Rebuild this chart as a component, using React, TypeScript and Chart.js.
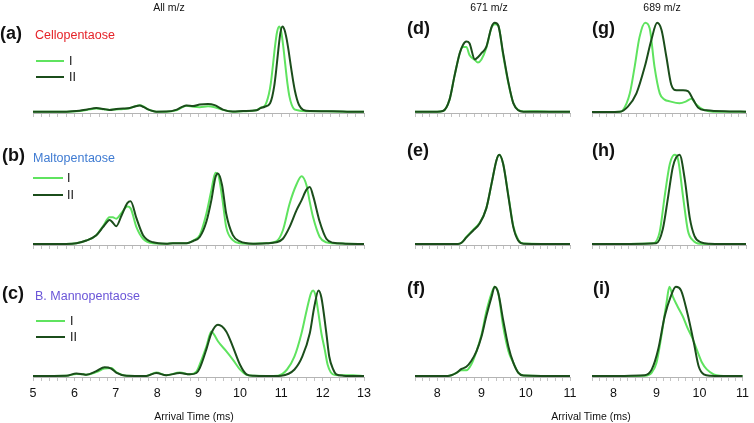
import React, { useEffect, useRef } from 'react';
import { Chart, registerables } from 'chart.js';
Chart.register(...registerables);

type Pt = [number, number];

const LIGHT = '#5fe35f';
const DARK = '#1b4d1b';
const FONT = '"Liberation Sans", Arial, sans-serif';

// ---------- tick labels ----------
const LEFT_TICK_LABELS = [5, 6, 7, 8, 9, 10, 11, 12, 13];
const RIGHT_TICK_LABELS = [8, 9, 10, 11];
const LEFT_MINOR_PER_UNIT = 5;
const RIGHT_MINOR_PER_UNIT = 6;

// ---------- All m/z : Cellopentaose (a) ----------
const A_II: Pt[] = [[5,0.003],[5.5,0.003],[5.81,0.005],[6.05,0.012],[6.31,0.03],[6.53,0.045],[6.71,0.035],[6.85,0.025],[7.01,0.035],[7.18,0.04],[7.3,0.042],[7.44,0.06],[7.58,0.075],[7.68,0.055],[7.78,0.03],[7.98,0.005],[8.22,0.006],[8.46,0.025],[8.59,0.055],[8.71,0.075],[8.87,0.068],[9.03,0.085],[9.23,0.092],[9.39,0.078],[9.59,0.028],[9.83,0.006],[10.08,0.012],[10.4,0.02],[10.5,0.045],[10.6,0.06],[10.73,0.1],[10.78,0.17],[10.83,0.29],[10.88,0.48],[10.93,0.7],[10.98,0.89],[11.03,0.96],[11.08,0.92],[11.13,0.82],[11.18,0.68],[11.23,0.52],[11.28,0.37],[11.33,0.24],[11.38,0.145],[11.43,0.08],[11.53,0.025],[11.7,0.012],[12.25,0.01],[12.66,0.005],[13,0.003]];
const A_I: Pt[] = [[5,0.003],[5.5,0.003],[5.81,0.005],[6.05,0.01],[6.31,0.025],[6.53,0.04],[6.71,0.032],[6.85,0.025],[7.01,0.03],[7.18,0.035],[7.3,0.04],[7.44,0.06],[7.58,0.078],[7.68,0.06],[7.78,0.03],[7.98,0.005],[8.22,0.005],[8.46,0.02],[8.59,0.05],[8.71,0.072],[8.87,0.06],[9.03,0.055],[9.23,0.065],[9.39,0.055],[9.59,0.025],[9.83,0.005],[10.08,0.01],[10.4,0.02],[10.5,0.05],[10.6,0.07],[10.7,0.2],[10.75,0.33],[10.8,0.53],[10.85,0.74],[10.9,0.9],[10.95,0.96],[11.0,0.9],[11.05,0.73],[11.1,0.52],[11.15,0.32],[11.2,0.17],[11.25,0.085],[11.3,0.04],[11.4,0.02],[11.5,0.012],[12.25,0.008],[13,0.003]];

// ---------- All m/z : Maltopentaose (b) ----------
const B_II: Pt[] = [[5,0],[5.8,0.002],[6.05,0.01],[6.29,0.04],[6.53,0.1],[6.69,0.19],[6.81,0.26],[6.85,0.27],[6.93,0.24],[7.01,0.2],[7.14,0.32],[7.28,0.46],[7.36,0.48],[7.5,0.29],[7.66,0.1],[7.9,0.02],[8.22,0.005],[8.38,0.01],[8.71,0.01],[8.87,0.035],[9.03,0.08],[9.19,0.25],[9.31,0.49],[9.41,0.75],[9.47,0.79],[9.57,0.66],[9.67,0.34],[9.83,0.1],[10.0,0.03],[10.32,0.005],[10.64,0.01],[10.88,0.02],[11.04,0.06],[11.2,0.19],[11.37,0.38],[11.49,0.49],[11.61,0.61],[11.69,0.64],[11.77,0.54],[11.93,0.25],[12.09,0.06],[12.25,0.015],[12.55,0.005],[13,0]];
const B_I: Pt[] = [[5,0],[5.8,0.002],[6.05,0.01],[6.29,0.04],[6.53,0.1],[6.69,0.2],[6.85,0.3],[6.93,0.3],[7.01,0.285],[7.14,0.35],[7.28,0.42],[7.36,0.4],[7.5,0.19],[7.66,0.06],[7.9,0.01],[8.22,0.005],[8.38,0.01],[8.71,0.01],[8.87,0.04],[9.03,0.1],[9.19,0.34],[9.31,0.6],[9.41,0.8],[9.47,0.785],[9.57,0.53],[9.67,0.19],[9.83,0.045],[10.0,0.01],[10.32,0.005],[10.64,0.01],[10.88,0.03],[11.04,0.155],[11.2,0.45],[11.37,0.67],[11.49,0.76],[11.61,0.66],[11.69,0.47],[11.77,0.3],[11.93,0.08],[12.09,0.02],[12.25,0.01],[12.55,0.005],[13,0]];

// ---------- All m/z : B. Mannopentaose (c) ----------
const C_II: Pt[] = [[5,0],[5.8,0.003],[6.05,0.03],[6.21,0.02],[6.29,0.015],[6.53,0.055],[6.73,0.1],[6.89,0.085],[7.01,0.04],[7.26,0.005],[7.74,0.002],[7.98,0.035],[8.22,0.01],[8.55,0.035],[8.79,0.02],[8.95,0.035],[9.03,0.09],[9.19,0.3],[9.31,0.48],[9.47,0.575],[9.67,0.5],[9.83,0.33],[10.0,0.13],[10.16,0.02],[10.34,0.003],[10.64,0],[11.0,0.005],[11.32,0.074],[11.51,0.22],[11.69,0.48],[11.8,0.78],[11.9,0.96],[11.97,0.88],[12.09,0.48],[12.16,0.22],[12.25,0.08],[12.33,0.02],[12.5,0.005],[13,0]];
const C_I: Pt[] = [[5,0],[5.8,0.003],[6.05,0.025],[6.21,0.02],[6.29,0.015],[6.53,0.045],[6.73,0.085],[6.89,0.09],[7.01,0.045],[7.26,0.005],[7.74,0.002],[7.98,0.04],[8.22,0.01],[8.55,0.04],[8.79,0.02],[8.95,0.05],[9.03,0.13],[9.19,0.33],[9.31,0.5],[9.37,0.47],[9.47,0.39],[9.67,0.28],[9.83,0.185],[10.0,0.075],[10.16,0.015],[10.34,0.003],[10.64,0.002],[10.92,0.005],[11.14,0.074],[11.32,0.22],[11.49,0.48],[11.62,0.75],[11.72,0.93],[11.77,0.96],[11.83,0.9],[11.9,0.7],[11.97,0.48],[12.05,0.3],[12.12,0.13],[12.2,0.04],[12.3,0.012],[12.5,0.01],[12.74,0.01],[13,0]];

// ---------- 671 m/z (d, e, f) ----------
const D_II: Pt[] = [[7.5,0.005],[8.0,0.005],[8.13,0.012],[8.28,0.14],[8.39,0.4],[8.51,0.66],[8.58,0.75],[8.66,0.79],[8.73,0.77],[8.85,0.59],[8.92,0.615],[9.0,0.66],[9.11,0.73],[9.23,0.955],[9.3,1.0],[9.38,0.97],[9.49,0.66],[9.61,0.33],[9.72,0.1],[9.83,0.02],[9.95,0.005],[10.5,0.005],[11,0.005]];
const D_I: Pt[] = [[7.5,0.005],[8.0,0.005],[8.13,0.012],[8.28,0.14],[8.39,0.4],[8.51,0.66],[8.58,0.73],[8.66,0.73],[8.73,0.64],[8.85,0.585],[8.92,0.555],[9.0,0.59],[9.11,0.72],[9.23,0.95],[9.3,0.985],[9.38,0.97],[9.49,0.64],[9.61,0.32],[9.72,0.1],[9.83,0.025],[9.95,0.008],[10.25,0.01],[10.6,0.005],[11,0.005]];
const E_II: Pt[] = [[7.5,0],[8.47,0.002],[8.55,0.015],[8.66,0.075],[8.81,0.15],[8.96,0.23],[9.11,0.4],[9.23,0.68],[9.34,0.94],[9.4,1.0],[9.49,0.9],[9.61,0.53],[9.72,0.19],[9.83,0.04],[9.95,0.005],[11,0]];
const E_I: Pt[] = [[7.5,0],[8.47,0.002],[8.55,0.015],[8.66,0.08],[8.81,0.16],[8.96,0.24],[9.11,0.4],[9.23,0.68],[9.34,0.94],[9.4,1.0],[9.49,0.9],[9.61,0.54],[9.72,0.2],[9.83,0.05],[9.95,0.008],[11,0]];
const F_II: Pt[] = [[7.5,0],[8.24,0.002],[8.32,0.01],[8.43,0.035],[8.55,0.08],[8.66,0.105],[8.77,0.17],[8.89,0.28],[9.0,0.44],[9.11,0.67],[9.23,0.89],[9.3,1.0],[9.38,0.93],[9.49,0.63],[9.61,0.33],[9.72,0.15],[9.83,0.04],[9.95,0.007],[11,0]];
const F_I: Pt[] = [[7.5,0],[8.24,0.002],[8.32,0.01],[8.43,0.035],[8.55,0.065],[8.66,0.065],[8.77,0.13],[8.89,0.28],[9.0,0.46],[9.11,0.72],[9.23,0.93],[9.3,1.0],[9.38,0.93],[9.49,0.56],[9.61,0.28],[9.72,0.15],[9.83,0.04],[9.95,0.007],[11,0]];

// ---------- 689 m/z (g, h, i) ----------
const G_II: Pt[] = [[7.5,0],[8.13,0.005],[8.32,0.065],[8.51,0.21],[8.7,0.51],[8.85,0.81],[8.98,1.0],[9.08,0.92],[9.19,0.62],[9.3,0.31],[9.42,0.245],[9.57,0.245],[9.68,0.235],[9.8,0.14],[9.91,0.05],[10.1,0.02],[10.63,0.008],[11,0.005]];
const G_I: Pt[] = [[7.5,0],[8.13,0.005],[8.2,0.02],[8.36,0.21],[8.47,0.51],[8.58,0.84],[8.71,1.0],[8.81,0.94],[8.92,0.51],[9.04,0.21],[9.15,0.14],[9.27,0.12],[9.49,0.1],[9.64,0.12],[9.76,0.15],[9.87,0.085],[10.02,0.03],[10.25,0.005],[11,0.005]];
const H_II: Pt[] = [[7.5,0],[8.96,0.01],[9.11,0.17],[9.23,0.53],[9.34,0.87],[9.49,1.0],[9.61,0.72],[9.72,0.3],[9.83,0.09],[9.98,0.02],[10.17,0.005],[11,0]];
const H_I: Pt[] = [[7.5,0],[8.89,0.01],[9.04,0.14],[9.15,0.53],[9.27,0.9],[9.38,1.0],[9.45,0.96],[9.57,0.53],[9.68,0.15],[9.8,0.04],[9.95,0.005],[11,0]];
const I_II: Pt[] = [[7.5,0],[8.73,0.01],[8.89,0.075],[9.04,0.3],[9.19,0.67],[9.33,0.89],[9.45,1.0],[9.57,0.96],[9.72,0.7],[9.87,0.37],[9.98,0.11],[10.1,0.02],[10.25,0.005],[11,0]];
const I_I: Pt[] = [[7.5,0],[8.73,0.005],[8.89,0.04],[9.0,0.15],[9.11,0.44],[9.23,0.81],[9.3,1.0],[9.38,0.89],[9.49,0.78],[9.61,0.67],[9.72,0.54],[9.83,0.43],[9.95,0.28],[10.06,0.15],[10.17,0.075],[10.33,0.02],[10.48,0.005],[11,0]];

function buildTicks(labels: number[], perUnit: number, start: number): number[] {
  const end = labels[labels.length - 1];
  const n = Math.round((end - start) * perUnit);
  const out: number[] = [];
  for (let i = 0; i <= n; i++) out.push(start + i / perUnit);
  return out;
}

type PanelProps = {
  left: number; axisY: number; plotW: number; padL: number; padR: number;
  xMin: number; xMax: number; tickVals: number[]; labels: number[] | null;
  dark: Pt[]; light: Pt[];
};

const PLOT_H = 100;
const PAD_T = 4;
const AXIS_H = 30;

function Panel(p: PanelProps) {
  const ref = useRef<HTMLCanvasElement>(null);
  const width = p.plotW + p.padL + p.padR;
  const height = PAD_T + PLOT_H + AXIS_H;
  useEffect(() => {
    const mk = (pts: Pt[], color: string) => ({
      data: pts.map(([x, y]) => ({ x, y })),
      borderColor: color,
      borderWidth: 2,
      pointRadius: 0,
      cubicInterpolationMode: 'monotone' as const,
      fill: false,
      clip: false as any,
    });
    const chart = new Chart(ref.current!, {
      type: 'line',
      data: { datasets: [mk(p.dark, DARK), mk(p.light, LIGHT)] as any },
      options: {
        responsive: false,
        animation: false,
        devicePixelRatio: 1,
        events: [],
        layout: { padding: { left: p.padL, right: p.padR, top: PAD_T, bottom: 0 } },
        plugins: { legend: { display: false }, tooltip: { enabled: false } },
        scales: {
          x: {
            type: 'linear',
            min: p.xMin,
            max: p.xMax,
            afterBuildTicks: (s: any) => { s.ticks = p.tickVals.map((v) => ({ value: v })); },
            afterFit: (s: any) => { s.height = AXIS_H; },
            ticks: {
              autoSkip: false,
              maxRotation: 0,
              minRotation: 0,
              padding: 5,
              color: '#111',
              font: { family: FONT, size: 12.5 },
              callback: (v: any) => {
                if (!p.labels) return '';
                const r = Math.round(Number(v));
                return Math.abs(Number(v) - r) < 1e-6 && p.labels.includes(r) ? String(r) : '';
              },
            },
            grid: { drawOnChartArea: false, drawTicks: true, tickLength: 4, tickColor: '#c4c4c4', tickWidth: 1 },
            border: { display: true, color: '#b4b4b4', width: 1 },
          },
          y: { display: false, min: -0.01, max: 1.11 },
        },
      },
    });
    return () => chart.destroy();
  }, []);
  return (
    <canvas
      ref={ref}
      width={width}
      height={height}
      style={{ position: 'absolute', left: p.left - p.padL, top: p.axisY - PLOT_H - PAD_T, width, height }}
    />
  );
}

function Txt(props: { x: number; cy: number; size: number; color?: string; bold?: boolean; center?: boolean; children: React.ReactNode; k?: number }) {
  const k = props.k ?? 0.6;
  return (
    <div
      style={{
        position: 'absolute',
        left: props.x,
        top: props.cy - k * props.size,
        fontFamily: FONT,
        fontSize: props.size,
        lineHeight: 1.2,
        fontWeight: props.bold ? 700 : 400,
        color: props.color ?? '#111',
        whiteSpace: 'nowrap',
        transform: props.center ? 'translateX(-50%)' : undefined,
      }}
    >
      {props.children}
    </div>
  );
}

function LegendLine(props: { x: number; w: number; cy: number; color: string }) {
  return <div style={{ position: 'absolute', left: props.x, top: props.cy - 1, width: props.w, height: 2, background: props.color }} />;
}

const ROW_AXIS = [113, 245, 377];

export default function App() {
  const leftTicks = buildTicks(LEFT_TICK_LABELS, LEFT_MINOR_PER_UNIT, 5);
  const rightTicks = buildTicks(RIGHT_TICK_LABELS, RIGHT_MINOR_PER_UNIT, 7.5);
  const L = { left: 33, plotW: 331, padL: 15, padR: 15, xMin: 5, xMax: 13, tickVals: leftTicks };
  const M = { left: 415, plotW: 155, padL: 15, padR: 15, xMin: 7.5, xMax: 11, tickVals: rightTicks };
  const R = { left: 592, plotW: 154, padL: 15, padR: 8, xMin: 7.5, xMax: 11, tickVals: rightTicks };
  return (
    <div style={{ position: 'absolute', left: 0, top: 0, width: 754, height: 423, overflow: 'hidden', background: '#fff' }}>
      <Panel {...L} axisY={ROW_AXIS[0]} labels={null} dark={A_II} light={A_I} />
      <Panel {...L} axisY={ROW_AXIS[1]} labels={null} dark={B_II} light={B_I} />
      <Panel {...L} axisY={ROW_AXIS[2]} labels={LEFT_TICK_LABELS} dark={C_II} light={C_I} />
      <Panel {...M} axisY={ROW_AXIS[0]} labels={null} dark={D_II} light={D_I} />
      <Panel {...M} axisY={ROW_AXIS[1]} labels={null} dark={E_II} light={E_I} />
      <Panel {...M} axisY={ROW_AXIS[2]} labels={RIGHT_TICK_LABELS} dark={F_II} light={F_I} />
      <Panel {...R} axisY={ROW_AXIS[0]} labels={null} dark={G_II} light={G_I} />
      <Panel {...R} axisY={ROW_AXIS[1]} labels={null} dark={H_II} light={H_I} />
      <Panel {...R} axisY={ROW_AXIS[2]} labels={RIGHT_TICK_LABELS} dark={I_II} light={I_I} />

      <Txt x={169} cy={7} size={10.5} center>All m/z</Txt>
      <Txt x={489} cy={7} size={10.5} center>671 m/z</Txt>
      <Txt x={662} cy={7} size={10.5} center>689 m/z</Txt>

      <Txt x={0} cy={35} size={18} bold k={0.69}>(a)</Txt>
      <Txt x={2} cy={157.5} size={18} bold k={0.69}>(b)</Txt>
      <Txt x={2} cy={295.5} size={18} bold k={0.69}>(c)</Txt>
      <Txt x={407} cy={30} size={18} bold k={0.69}>(d)</Txt>
      <Txt x={407} cy={152.5} size={18} bold k={0.69}>(e)</Txt>
      <Txt x={407} cy={290.5} size={18} bold k={0.69}>(f)</Txt>
      <Txt x={592} cy={30} size={18} bold k={0.69}>(g)</Txt>
      <Txt x={592} cy={152.5} size={18} bold k={0.69}>(h)</Txt>
      <Txt x={593} cy={290.5} size={18} bold k={0.69}>(i)</Txt>

      <Txt x={35} cy={35} size={12.5} color="#e52329">Cellopentaose</Txt>
      <Txt x={33} cy={158} size={12.5} color="#3f7bd2">Maltopentaose</Txt>
      <Txt x={35} cy={296} size={12.5} color="#6a55d8">B. Mannopentaose</Txt>

      <LegendLine x={36} w={28} cy={61} color={LIGHT} />
      <LegendLine x={36} w={28} cy={77} color={DARK} />
      <Txt x={69} cy={61} size={12.5}>I</Txt>
      <Txt x={69} cy={77} size={12.5}>II</Txt>

      <LegendLine x={33} w={30} cy={178} color={LIGHT} />
      <LegendLine x={33} w={30} cy={195} color={DARK} />
      <Txt x={67} cy={178} size={12.5}>I</Txt>
      <Txt x={67} cy={195} size={12.5}>II</Txt>

      <LegendLine x={36} w={29} cy={321} color={LIGHT} />
      <LegendLine x={36} w={29} cy={337} color={DARK} />
      <Txt x={70} cy={321} size={12.5}>I</Txt>
      <Txt x={70} cy={337} size={12.5}>II</Txt>

      <Txt x={194} cy={416} size={10.5} center>Arrival Time (ms)</Txt>
      <Txt x={591} cy={416} size={10.5} center>Arrival Time (ms)</Txt>
    </div>
  );
}
